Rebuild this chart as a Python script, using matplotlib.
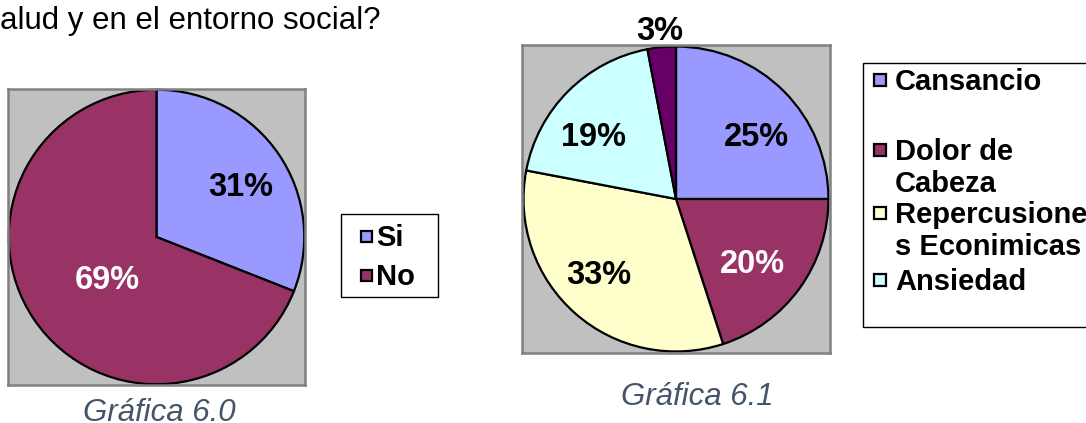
import matplotlib
matplotlib.use("Agg")
import matplotlib.pyplot as plt
from matplotlib.patches import Rectangle
import numpy as np

# ---------------- data ----------------
title_text = "alud y en el entorno social?"

pie1_labels = ["Si", "No"]
pie1_values = [31, 69]

pie2_labels = ["Cansancio", "Dolor de\nCabeza", "Repercusione\ns Econimicas", "Ansiedad", "Otros"]
pie2_values = [25, 20, 33, 19, 3]
pie2_legend_count = 4  # the fifth legend entry is cut off in the original

captions = ["Gráfica 6.0", "Gráfica 6.1"]

# ---------------- style ----------------
pie1_colors = ["#9999FF", "#993366"]
pie2_colors = ["#9999FF", "#993366", "#FFFFCC", "#CCFFFF", "#660066"]
pie1_text_colors = ["black", "white"]
pie2_text_colors = ["black", "white", "black", "black", "black"]
# label placement: radius (fraction of pie radius) and angular shift from wedge middle (deg)
pie1_label_r = [0.675, 0.43]
pie1_label_shift = [-2.3, 4.8]
pie2_label_r = [0.68, 0.645, 0.695, 0.69, 1.125]
pie2_label_shift = [-6.1, -3.0, -5.1, 6.9, -0.1]

LABEL_FS = 23.5
CAP_HALF_PX = LABEL_FS * 100 / 72 * 0.716 / 2

plt.rcParams['font.family'] = ['Liberation Sans', 'DejaVu Sans']

W, H = 1086, 423
fig = plt.figure(figsize=(W / 100, H / 100), dpi=100)
fig.patch.set_facecolor("white")


def px_axes(l, t, r, b):
    return fig.add_axes([l / W, 1 - b / H, (r - l) / W, (b - t) / H])


def draw_pie(ax, values, colors, tcolors, radii, shifts, radius):
    wedges, _ = ax.pie(values, colors=colors, startangle=90, counterclock=False,
                       radius=radius,
                       wedgeprops=dict(edgecolor="black", linewidth=1.6))
    for w, v, c, r, sh in zip(wedges, values, tcolors, radii, shifts):
        th = np.deg2rad((w.theta1 + w.theta2) / 2 + sh)
        ax.annotate(f"{v}%", (r * radius * np.cos(th), r * radius * np.sin(th)),
                    xytext=(0, -CAP_HALF_PX), textcoords="offset pixels",
                    ha="center", va="baseline", fontsize=LABEL_FS, fontweight="bold",
                    color=c, annotation_clip=False)
    ax.set_xlim(-1, 1)
    ax.set_ylim(-1, 1)
    ax.set_aspect("auto")
    ax.set_frame_on(True)
    ax.set_axis_on()
    ax.set_facecolor("#C0C0C0")
    ax.patch.set_visible(True)
    ax.set_xticks([])
    ax.set_yticks([])
    for s in ax.spines.values():
        s.set_visible(True)
        s.set_color("#808080")
        s.set_linewidth(1.8)


ax1 = px_axes(8, 89, 305, 385)
draw_pie(ax1, pie1_values, pie1_colors, pie1_text_colors, pie1_label_r, pie1_label_shift, 0.995)

ax2 = px_axes(522, 45, 830, 353)
draw_pie(ax2, pie2_values, pie2_colors, pie2_text_colors, pie2_label_r, pie2_label_shift, 0.99)

# ---------------- overlay in pixel coordinates ----------------
ov = fig.add_axes([0, 0, 1, 1])
ov.set_xlim(0, W)
ov.set_ylim(H, 0)
ov.axis("off")
ov.patch.set_alpha(0)

ov.text(0, 29, title_text, fontsize=22.5, ha="left", va="baseline", color="black")

# legend 1
ov.add_patch(Rectangle((341, 214), 97, 83, facecolor="white", edgecolor="black", lw=1))
for lab, col, base in zip(pie1_labels, pie1_colors, [246, 285]):
    ov.add_patch(Rectangle((361, base - 15), 11, 11, facecolor=col, edgecolor="black", lw=1.6))
    ov.text(376, base, lab, fontsize=21, fontweight="bold", ha="left", va="baseline")

# legend 2
ov.add_patch(Rectangle((863, 63), 260, 264, facecolor="white", edgecolor="black", lw=1))
bases = [90, 160, 223, 290]
line_step = 32
for lab, col, base in zip(pie2_labels[:pie2_legend_count], pie2_colors, bases):
    ov.add_patch(Rectangle((874, base - 16), 12, 12, facecolor=col, edgecolor="black", lw=1.6))
    for i, line in enumerate(lab.split("\n")):
        ov.text(895, base + i * line_step, line, fontsize=21, fontweight="bold",
                ha="left", va="baseline")

# captions
ov.text(159, 421, captions[0], fontsize=22.5, style="italic", color="#44546A",
        ha="center", va="baseline")
ov.text(697, 405, captions[1], fontsize=22.5, style="italic", color="#44546A",
        ha="center", va="baseline")

fig.savefig("out.png", dpi=100, facecolor="white")
